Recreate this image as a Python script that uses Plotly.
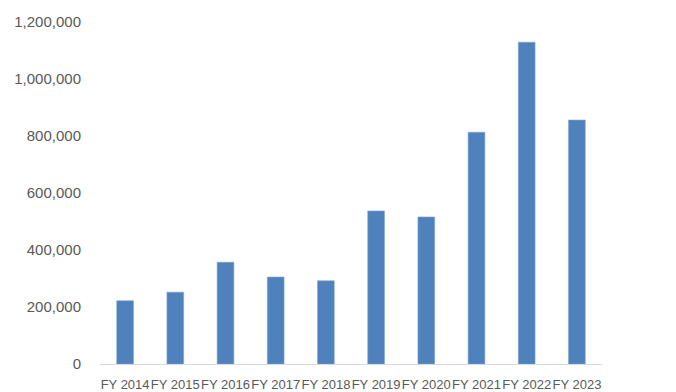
import plotly.graph_objects as go

# Annual totals by fiscal year
years = ["FY 2014", "FY 2015", "FY 2016", "FY 2017", "FY 2018",
         "FY 2019", "FY 2020", "FY 2021", "FY 2022", "FY 2023"]
totals = [222000, 252000, 357000, 305000, 292000,
          537000, 516000, 813000, 1129000, 856000]

y_ticks = [0, 200000, 400000, 600000, 800000, 1000000, 1200000]
y_tick_text = ["0", "200,000", "400,000", "600,000", "800,000", "1,000,000", "1,200,000"]

BAR_BLUE = "#4F81BD"
TEXT_GREY = "#595959"
AXIS_GREY = "#D9D9D9"

fig = go.Figure(
    go.Bar(
        x=years,
        y=totals,
        marker=dict(color=BAR_BLUE, line=dict(color="#7FA3D1", width=0.6)),
        hoverinfo="x+y",
    )
)

fig.update_layout(
    width=676,
    height=392,
    margin=dict(l=100, r=74, t=22, b=28),
    paper_bgcolor="white",
    plot_bgcolor="white",
    bargap=0.667,
    showlegend=False,
    font=dict(family="Liberation Sans, Arial, sans-serif", color=TEXT_GREY),
)

fig.update_xaxes(
    type="category",
    showline=True,
    linecolor=AXIS_GREY,
    linewidth=1.3,
    showgrid=False,
    ticks="",
    tickangle=0,
    automargin=False,
    ticklabelstandoff=8,
    tickfont=dict(size=13, color=TEXT_GREY),
    fixedrange=True,
)

fig.update_yaxes(
    range=[0, 1200000],
    tickvals=y_ticks,
    ticktext=y_tick_text,
    showgrid=False,
    showline=False,
    zeroline=False,
    ticks="",
    automargin=False,
    ticklabelstandoff=18,
    tickfont=dict(size=15, color=TEXT_GREY),
    fixedrange=True,
)

fig.write_html("out.html")
